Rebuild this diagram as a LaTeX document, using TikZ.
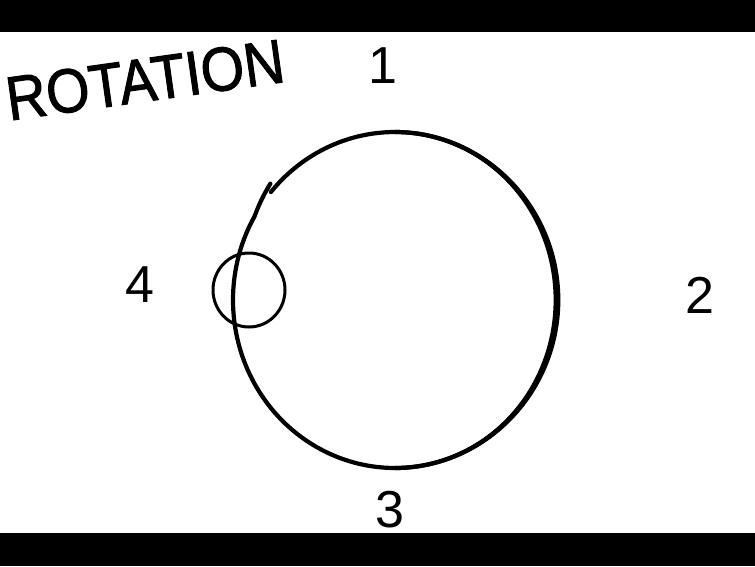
\documentclass[tikz,border=0pt]{standalone}
\usepackage{fontspec}
\setmainfont{Liberation Sans}
\newfontfamily\handbold[FakeBold=1.6]{Liberation Sans}
\begin{document}
\begin{tikzpicture}[x=1pt,y=-1pt,
  hand/.style={font=\fontsize{52}{52}\selectfont, inner sep=0pt, anchor=center},
  bigring/.style={line width=4.2pt, line cap=round, line join=round},
  smallring/.style={line width=3pt, line cap=round}]
\useasboundingbox (0,0) rectangle (755,566);
\fill[black] (0,0) rectangle (755,32);
\fill[black] (0,533) rectangle (755,566);
% title
\node[hand, font=\handbold\fontsize{62}{62}\selectfont, rotate=8, xscale=0.9] (title) at (145,80) {ROTATION};
% numbers
\node[hand] (n1) at (383,66) {1};
\node[hand] (n2) at (700,295) {2};
\node[hand] (n3) at (390,510) {3};
\node[hand] (n4) at (140,285) {4};
% big circle (open hand stroke)
\coordinate (c) at (395,300);
\draw[bigring] plot[domain=138:500, samples=180, smooth]
  ({395+162*(1+0.035*max(0,(150-\x)/12))*cos(\x)}, {300-168*(1+0.035*max(0,(150-\x)/12))*sin(\x)});
\fill[black] plot[domain=-90:90, samples=90, smooth]
  ({395+(162+(2.1+1.3*max(0,cos(\x))^3))*cos(\x)}, {300-(168+(2.1+1.3*max(0,cos(\x))^3))*sin(\x)})
  -- plot[domain=90:-90, samples=90, smooth]
  ({395+(162-(2.1+1.3*max(0,cos(\x))^3))*cos(\x)}, {300-(168-(2.1+1.3*max(0,cos(\x))^3))*sin(\x)}) -- cycle;
% small circle
\draw[smallring] (249,290) ellipse [x radius=36, y radius=37];
\end{tikzpicture}
\end{document}
